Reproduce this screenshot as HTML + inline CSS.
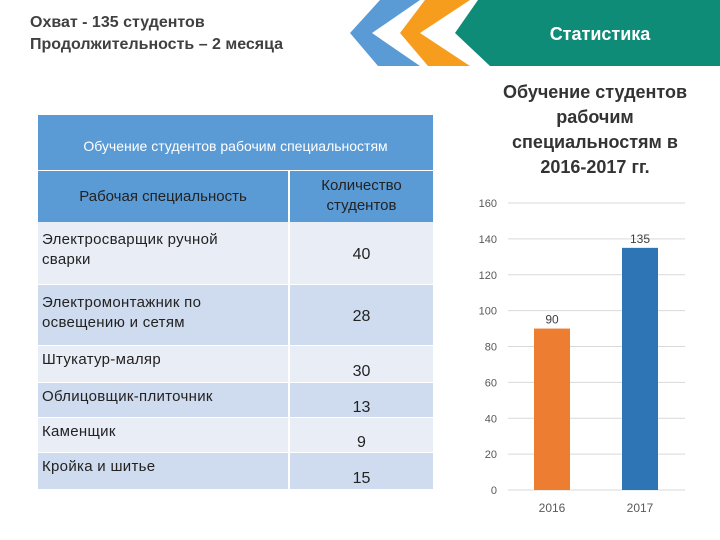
<!DOCTYPE html>
<html><head><meta charset="utf-8"><style>
body{margin:0;width:720px;height:540px;overflow:hidden;background:#fff;font-family:"Liberation Sans","DejaVu Sans",sans-serif;position:relative}
.a{position:absolute}
.cell{position:absolute;box-sizing:border-box;font-size:15px;color:#222;line-height:20px}
</style></head><body>
<div class="a" style="left:30px;top:12px;font-size:16px;font-weight:bold;color:#404040;line-height:22px">Охват - 135 студентов<br>Продолжительность – 2 месяца</div>
<svg class="a" style="left:0;top:0" width="720" height="70">
<polygon points="380,0 420,0 372,33 420,66 378,66 350,33" fill="#5b9bd5"/>
<polygon points="425,0 470,0 420,33 470,66 428,66 400,33" fill="#f79d1e"/>
<polygon points="478,0 720,0 720,66 490,66 455,33" fill="#0e8c78"/>
<text x="600" y="40" font-size="18" font-weight="bold" fill="#fff" text-anchor="middle" font-family="Liberation Sans, sans-serif">Статистика</text>
</svg>
<div>
<div class="cell" style="left:38px;top:115px;width:395px;height:55px;background:#5b9bd5;color:#fff;text-align:center;padding-top:21px;font-size:14px">Обучение студентов рабочим специальностям</div>
<div class="cell" style="left:38px;top:171px;width:250px;height:51px;background:#5b9bd5;text-align:center;padding-top:16px">Рабочая специальность</div>
<div class="cell" style="left:290px;top:171px;width:143px;height:51px;background:#5b9bd5;text-align:center;padding-top:5px">Количество<br>студентов</div>
<div id="rows"></div>
</div>
<div class="a" style="left:470px;top:80px;width:250px;text-align:center;font-size:18px;font-weight:bold;color:#333;line-height:25px">Обучение студентов<br>рабочим<br>специальностям в<br>2016-2017 гг.</div>
<svg id="chart" class="a" style="left:0;top:0" width="720" height="540"></svg>
<script>
const names=["Электросварщик ручной|сварки","Электромонтажник по|освещению и сетям","Штукатур-маляр","Облицовщик-плиточник","Каменщик","Кройка и шитье"];
const counts=[40,28,30,13,9,15];
const rowTops=[222,285,346,383,418,453,490];
const rowsEl=document.getElementById('rows');
names.forEach((n,i)=>{
 const t=rowTops[i],h=rowTops[i+1]-t-1,bg=i%2?'#cfdbee':'#e9eef6';
 const a=document.createElement('div');a.className='cell';
 
 
 a.style.cssText=`left:38px;top:${t}px;width:250px;height:${h}px;background:${bg};padding:${h>45?8:4}px 4px;letter-spacing:0.3px`;
 a.innerHTML=n.split('|').join('<br>');rowsEl.appendChild(a);
 const b=document.createElement('div');b.className='cell';
 
 
 b.style.cssText=`left:290px;top:${t}px;width:143px;height:${h}px;background:${bg};text-align:center;font-size:16px;line-height:${h}px;padding-top:${h>45?2:8}px`;
 b.textContent=counts[i];rowsEl.appendChild(b);
});
const years=["2016","2017"];
const totals=[90,135];
const ticks=[0,20,40,60,80,100,120,140,160];
const colors=["#ed7d31","#2e75b6"];
const svg=document.getElementById('chart'),NS='http://www.w3.org/2000/svg';
const y=v=>490-v*(287/160);
const x0=508,bw=36,xc=i=>552+i*88;
function el(t,at,txt){const e=document.createElementNS(NS,t);for(const k in at)e.setAttribute(k,at[k]);if(txt!=null)e.textContent=txt;svg.appendChild(e);return e;}
ticks.forEach(v=>{
 const g=el('line',{x1:x0,x2:685,y1:y(v),y2:y(v),stroke:'#d9d9d9','stroke-width':1});
 
 
 const t=el('text',{x:497,y:y(v)+4,'font-size':11,fill:'#595959','text-anchor':'end','font-family':'Liberation Sans, sans-serif'},v);
 
 
});
totals.forEach((v,i)=>{
 const r=el('rect',{x:xc(i)-bw/2,y:y(v),width:bw,height:y(0)-y(v),fill:colors[i]});
 
 
 const l=el('text',{x:xc(i),y:y(v)-5,'font-size':12,fill:'#404040','text-anchor':'middle','font-family':'Liberation Sans, sans-serif'},v);
 
 
 const c=el('text',{x:xc(i),y:512,'font-size':12,fill:'#595959','text-anchor':'middle','font-family':'Liberation Sans, sans-serif'},years[i]);
 
 
});
</script>
</body></html>
